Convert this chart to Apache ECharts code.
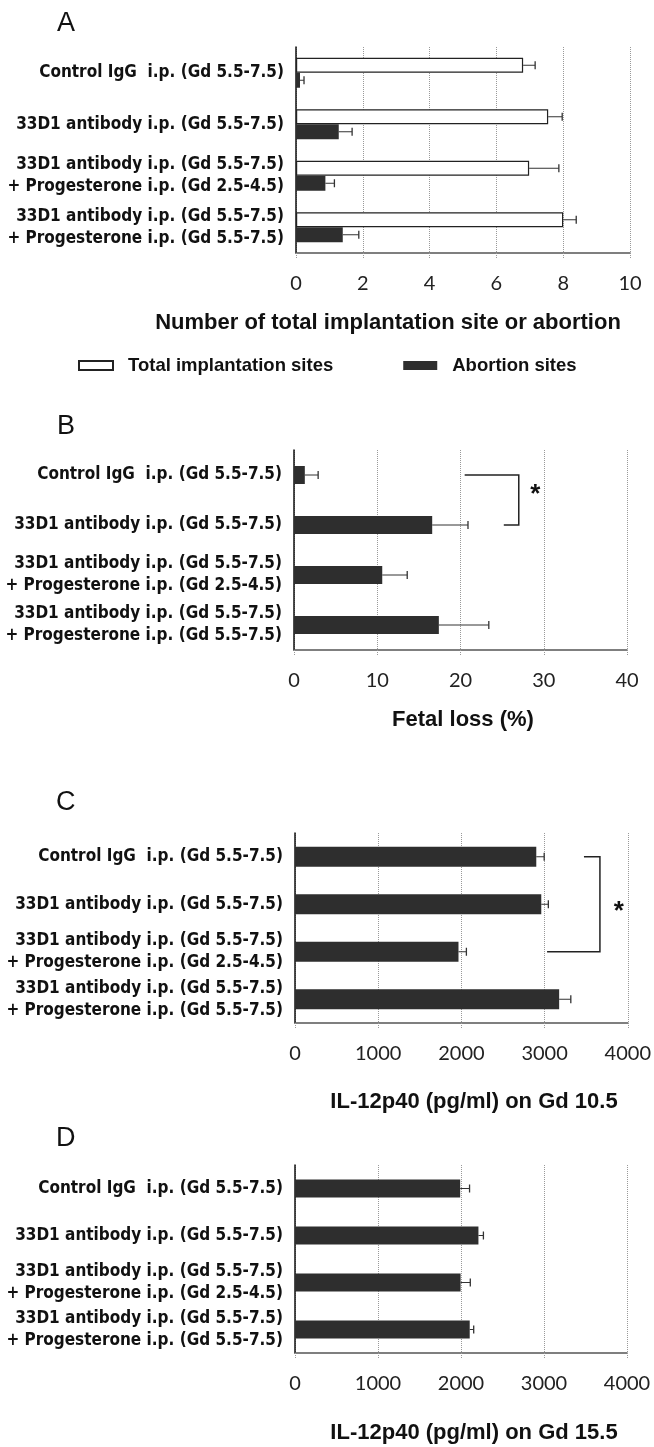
<!DOCTYPE html>
<html>
<head>
<meta charset="utf-8">
<script src="https://cdn.jsdelivr.net/npm/echarts@6/dist/echarts.min.js"></script>
<style>
html, body { margin: 0; padding: 0; background: #fff; }
#main { width: 654px; height: 1447px; }
</style>
</head>
<body>
<div id="main"></div>
<script>
// categories (same four groups in every panel)
const groupsA = ['Control IgG  i.p. (Gd 5.5-7.5)', '33D1 antibody i.p. (Gd 5.5-7.5)',
    '33D1 antibody i.p. (Gd 5.5-7.5)\n+ Progesterone i.p. (Gd 2.5-4.5)',
    '33D1 antibody i.p. (Gd 5.5-7.5)\n+ Progesterone i.p. (Gd 5.5-7.5)'];

// A: implantation / abortion sites
const totalSites = [6.8, 7.55, 6.98, 8.0];
const totalSitesSd = [0.36, 0.42, 0.89, 0.39];
const abortionSites = [0.12, 1.28, 0.88, 1.4];
const abortionSitesSd = [0.12, 0.4, 0.27, 0.48];
const ticksA = [0, 2, 4, 6, 8, 10];

// B: fetal loss %
const fetalLoss = [1.3, 16.6, 10.6, 17.4];
const fetalLossSd = [1.6, 4.3, 3.0, 6.0];
const ticksB = [0, 10, 20, 30, 40];
// bracket: [startX, verticalX, endX, fromGroup, toGroup, starX, star share of the drop]
const bracketB = [20.5, 27, 25.2, 0, 1, 29, 0.4];

// C: IL-12p40 on Gd 10.5
const il12Gd10 = [2900, 2960, 1965, 3175];
const il12Gd10Sd = [95, 85, 95, 140];
const ticksC = [0, 1000, 2000, 3000, 4000];
const bracketC = [3473, 3665, 3030, 0, 2, 3892, 0.58];

// D: IL-12p40 on Gd 15.5
const il12Gd15 = [1990, 2210, 1995, 2105];
const il12Gd15Sd = [113, 60, 117, 48];
const ticksD = [0, 1000, 2000, 3000, 4000];

const DARK = '#2e2e2e';
const TEXT = '#111';

function errData(mean, sd) {
    return mean.map((m, i) => [i, m, sd[i]]);
}

// one-sided (right) error bar, shifted by dy px from the band center
function errRender(dy) {
    return function (params, api) {
        var cat = api.value(0), m = api.value(1), sd = api.value(2);
        var p0 = api.coord([m, cat]);
        var p1 = api.coord([m + sd, cat]);
        var y = p0[1] + dy;
        return {
            type: 'group',
            children: [
                { type: 'line', shape: { x1: p0[0], y1: y, x2: p1[0], y2: y }, style: { stroke: '#333', lineWidth: 1 } },
                { type: 'line', shape: { x1: p1[0], y1: y - 4, x2: p1[0], y2: y + 4 }, style: { stroke: '#333', lineWidth: 1.3 } }
            ]
        };
    };
}

function bracketRender(params, api) {
    var x1 = api.value(0), x2 = api.value(1), x3 = api.value(2);
    var c1 = api.value(3), c2 = api.value(4);
    var a = api.coord([x1, c1]), b = api.coord([x2, c1]), c = api.coord([x2, c2]), d = api.coord([x3, c2]);
    var sx = api.coord([api.value(5), c1])[0];
    var sy = b[1] + (c[1] - b[1]) * api.value(6);
    return {
        type: 'group',
        children: [
            { type: 'polyline', shape: { points: [a, b, c, d] }, style: { stroke: '#222', lineWidth: 1.5, fill: null } },
            { type: 'text', x: sx, y: sy, style: { text: '*', font: 'bold 26px "Liberation Sans"', fill: TEXT, align: 'center', verticalAlign: 'middle' } }
        ]
    };
}

function xAxisOf(idx, ticks) {
    return {
        gridIndex: idx,
        type: 'value',
        min: ticks[0],
        max: ticks[ticks.length - 1],
        interval: ticks[1] - ticks[0],
        axisLine: { show: true, lineStyle: { color: '#555', width: 1.5 } },
        axisTick: { show: true, length: 5, lineStyle: { color: '#999', type: 'dotted' } },
        splitLine: { show: true, lineStyle: { color: '#999', type: 'dotted', width: 1 } },
        axisLabel: { margin: 21, fontFamily: 'Lato', fontSize: 20, color: '#222', formatter: v => String(v) }
    };
}

function yAxisOf(idx) {
    return {
        gridIndex: idx,
        type: 'category',
        inverse: true,
        data: groupsA,
        axisLine: { show: true, onZero: false, lineStyle: { color: '#111', width: 1.5 } },
        axisTick: { show: false },
        splitLine: { show: false },
        axisLabel: {
            margin: 12, fontFamily: '"DejaVu Sans Condensed", "Liberation Sans", sans-serif',
            fontWeight: 'bold', fontSize: 17, lineHeight: 22, color: TEXT, align: 'right'
        }
    };
}

function titleText(txt, cx, cy) {
    return { type: 'text', x: cx, y: cy, style: { text: txt, font: 'bold 22px "Liberation Sans"', fill: TEXT, align: 'center', verticalAlign: 'middle' } };
}
function letterText(txt, x, cy) {
    return { type: 'text', x: x, y: cy, style: { text: txt, font: '27px "Liberation Sans"', fill: TEXT, align: 'left', verticalAlign: 'middle' } };
}

var myChart = echarts.init(document.getElementById('main'), null, { renderer: 'canvas' });

var option = {
    backgroundColor: '#fff',
    animation: false,
    grid: [
        { left: 296, top: 47, width: 334, height: 206 },
        { left: 294, top: 450, width: 333, height: 200 },
        { left: 295, top: 833, width: 334, height: 190 },
        { left: 295, top: 1165, width: 332, height: 188 }
    ],
    xAxis: [xAxisOf(0, ticksA), xAxisOf(1, ticksB), xAxisOf(2, ticksC), xAxisOf(3, ticksD)],
    yAxis: [yAxisOf(0), yAxisOf(1), yAxisOf(2), yAxisOf(3)],
    legend: {
        data: ['Total implantation sites', 'Abortion sites'],
        icon: 'rect',
        left: 78,
        top: 356,
        padding: 0,
        itemWidth: 34,
        itemHeight: 9,
        itemGap: 70,
        textStyle: { fontFamily: 'Liberation Sans', fontWeight: 'bold', fontSize: 18.5, color: TEXT, padding: [0, 0, 0, 10] }
    },
    graphic: [
        letterText('A', 57, 24),
        letterText('B', 57, 427),
        letterText('C', 56, 803),
        letterText('D', 56, 1139),
        titleText('Number of total implantation site or abortion', 388, 323),
        titleText('Fetal loss (%)', 463, 720),
        titleText('IL-12p40 (pg/ml) on Gd 10.5', 474, 1102),
        titleText('IL-12p40 (pg/ml) on Gd 15.5', 474, 1433)
    ],
    series: [
        {
            name: 'Total implantation sites', type: 'bar', xAxisIndex: 0, yAxisIndex: 0,
            data: totalSites, barWidth: 15, barGap: '0%',
            itemStyle: { color: '#fff', borderColor: '#222', borderWidth: 1.2 }
        },
        {
            name: 'Abortion sites', type: 'bar', xAxisIndex: 0, yAxisIndex: 0,
            data: abortionSites, barWidth: 15, barGap: '0%',
            itemStyle: { color: DARK }
        },
        { type: 'custom', xAxisIndex: 0, yAxisIndex: 0, renderItem: errRender(-7.5), encode: { x: 1, y: 0 }, data: errData(totalSites, totalSitesSd), z: 3 },
        { type: 'custom', xAxisIndex: 0, yAxisIndex: 0, renderItem: errRender(7.5), encode: { x: 1, y: 0 }, data: errData(abortionSites, abortionSitesSd), z: 3 },

        { name: 'Fetal loss', type: 'bar', xAxisIndex: 1, yAxisIndex: 1, data: fetalLoss, barWidth: 18, itemStyle: { color: DARK } },
        { type: 'custom', xAxisIndex: 1, yAxisIndex: 1, renderItem: errRender(0), encode: { x: 1, y: 0 }, data: errData(fetalLoss, fetalLossSd), z: 3 },
        { type: 'custom', xAxisIndex: 1, yAxisIndex: 1, renderItem: bracketRender, encode: { x: [0, 1, 2, 5], y: [3, 4] }, data: [bracketB], clip: false, z: 4 },

        { name: 'IL-12p40 Gd 10.5', type: 'bar', xAxisIndex: 2, yAxisIndex: 2, data: il12Gd10, barWidth: 20, itemStyle: { color: DARK } },
        { type: 'custom', xAxisIndex: 2, yAxisIndex: 2, renderItem: errRender(0), encode: { x: 1, y: 0 }, data: errData(il12Gd10, il12Gd10Sd), z: 3 },
        { type: 'custom', xAxisIndex: 2, yAxisIndex: 2, renderItem: bracketRender, encode: { x: [0, 1, 2, 5], y: [3, 4] }, data: [bracketC], clip: false, z: 4 },

        { name: 'IL-12p40 Gd 15.5', type: 'bar', xAxisIndex: 3, yAxisIndex: 3, data: il12Gd15, barWidth: 18, itemStyle: { color: DARK } },
        { type: 'custom', xAxisIndex: 3, yAxisIndex: 3, renderItem: errRender(0), encode: { x: 1, y: 0 }, data: errData(il12Gd15, il12Gd15Sd), z: 3 }
    ]
};

myChart.setOption(option);
</script>
</body>
</html>
